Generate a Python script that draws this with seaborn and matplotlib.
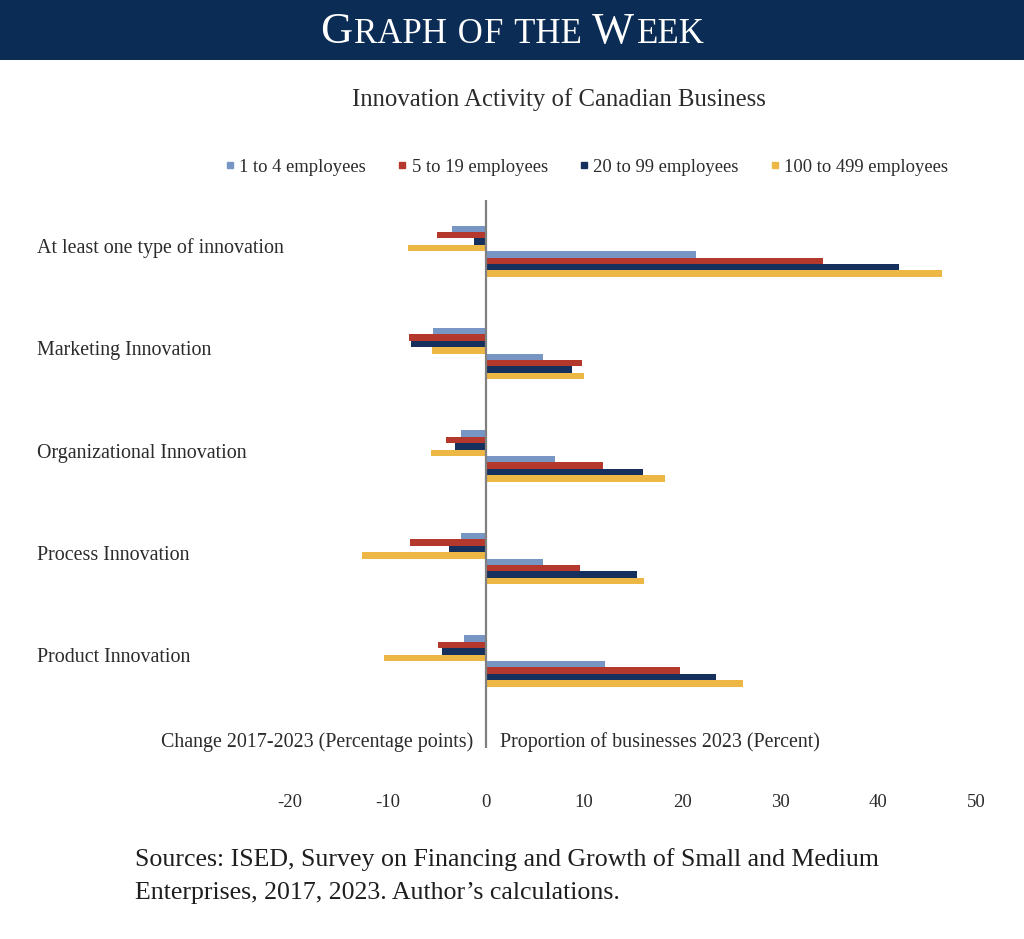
import numpy as np
import pandas as pd
import matplotlib
matplotlib.use("Agg")
import matplotlib.pyplot as plt
import matplotlib.transforms as mtrans
import seaborn as sns
from matplotlib.lines import Line2D
from matplotlib.patches import Rectangle

# data
categories = ["At least one type of innovation", "Marketing Innovation",
              "Organizational Innovation", "Process Innovation", "Product Innovation"]
sizes = ["1 to 4 employees", "5 to 19 employees", "20 to 99 employees", "100 to 499 employees"]
colors = ["#7896C4", "#B5382C", "#15305C", "#EDB745"]

# change 2017-2023 (percentage points), one list per size class
change_1_4 = [-3.5, -5.4, -2.6, -2.6, -2.3]
change_5_19 = [-5.0, -7.9, -4.1, -7.8, -4.9]
change_20_99 = [-1.2, -7.7, -3.2, -3.8, -4.5]
change_100_499 = [-8.0, -5.5, -5.6, -12.7, -10.4]

# proportion of businesses 2023 (percent)
prop_1_4 = [21.4, 5.8, 7.0, 5.8, 12.1]
prop_5_19 = [34.4, 9.8, 11.9, 9.6, 19.8]
prop_20_99 = [42.1, 8.8, 16.0, 15.4, 23.4]
prop_100_499 = [46.5, 10.0, 18.2, 16.1, 26.2]

changes = [change_1_4, change_5_19, change_20_99, change_100_499]
props = [prop_1_4, prop_5_19, prop_20_99, prop_100_499]

rows = []
hue_order = []
palette = {}
for measure, series in [("change", changes), ("prop", props)]:
    for s, c, vals in zip(sizes, colors, series):
        key = measure + " | " + s
        hue_order.append(key)
        palette[key] = c
        for cat, v in zip(categories, vals):
            rows.append({"category": cat, "series": key, "value": v})
df = pd.DataFrame(rows)

sns.set_theme(style="white")
plt.rcParams["font.family"] = ["Liberation Serif", "DejaVu Serif"]
plt.rcParams["axes.unicode_minus"] = False
txt = "#2b2b2b"

W, H = 1024, 939
fig = plt.figure(figsize=(W / 100, H / 100), dpi=100)

# header band
fig.patches.append(Rectangle((0, 1 - 60 / H), 1, 60 / H, transform=fig.transFigure,
                             facecolor="#0B2C55", edgecolor="none", zorder=0))

# axes: x=0 at 486px, ~9.8px per unit
ax = fig.add_axes([241 / W, 1 - 748 / H, 755 / W, 548 / H])
sns.barplot(data=df, y="category", x="value", hue="series", hue_order=hue_order,
            order=categories, palette=palette, width=0.5, orient="h",
            linewidth=0, saturation=1, legend=False, ax=ax)
ax.set_xlim(-25, 52)
ax.set_ylim(4.85, -0.5)
ax.axvline(0, color="#808080", lw=1.6, zorder=5)
for sp in ax.spines.values():
    sp.set_visible(False)
ax.set_xlabel("")
ax.set_ylabel("")
ax.set_yticks([])
ax.set_xticks(np.arange(-20, 51, 10))
ax.tick_params(axis="x", length=0, pad=33, labelsize=13.5, labelcolor=txt)

# category labels on the far left
blend = mtrans.blended_transform_factory(fig.transFigure, ax.transData)
for i, cat in enumerate(categories):
    ax.text(37 / W, i - 0.03, cat, transform=blend, ha="left", va="center",
            fontsize=14.4, color=txt)

ax.text(-1.3, 4.79, "Change 2017-2023 (Percentage points)", ha="right", va="center",
        fontsize=14.4, color=txt)
ax.text(1.4, 4.79, "Proportion of businesses 2023 (Percent)", ha="left", va="center",
        fontsize=14.4, color=txt)

# title and legend
fig.text(559 / W, 1 - 100 / H, "Innovation Activity of Canadian Business", ha="center",
         va="center", fontsize=17.8, color=txt)
handles = [Line2D([], [], marker="s", ls="none", color=c, markersize=4.5) for c in colors]
fig.legend(handles, sizes, loc="center", bbox_to_anchor=(586 / W, 1 - 167 / H), ncol=4,
           frameon=False, fontsize=13.4, handletextpad=0.15, columnspacing=1.6,
           handlelength=0.7, labelcolor=txt)

# header text in small caps, built piece by piece
pieces = [("G", 32), ("RAPH", 25), (" O", 25), ("F", 25), (" THE ", 25), ("W", 32), ("EEK", 25)]
renderer = fig.canvas.get_renderer()
objs = []
for t, fs in pieces:
    o = fig.text(0, 1 - 43 / H, t, fontsize=fs, color="white", ha="left", va="baseline")
    objs.append(o)
widths = [o.get_window_extent(renderer).width for o in objs]
gap = 2
x = (W - sum(widths) - gap * (len(objs) - 1)) / 2
for o, w in zip(objs, widths):
    o.set_x(x / W)
    x += w + gap

fig.text(135 / W, 1 - 860 / H, "Sources: ISED, Survey on Financing and Growth of Small and Medium",
         ha="left", va="center", fontsize=18.6, color="#1e1e1e")
fig.text(135 / W, 1 - 893 / H, "Enterprises, 2017, 2023. Author\u2019s calculations.",
         ha="left", va="center", fontsize=18.6, color="#1e1e1e")

fig.savefig("out.png", dpi=100)
